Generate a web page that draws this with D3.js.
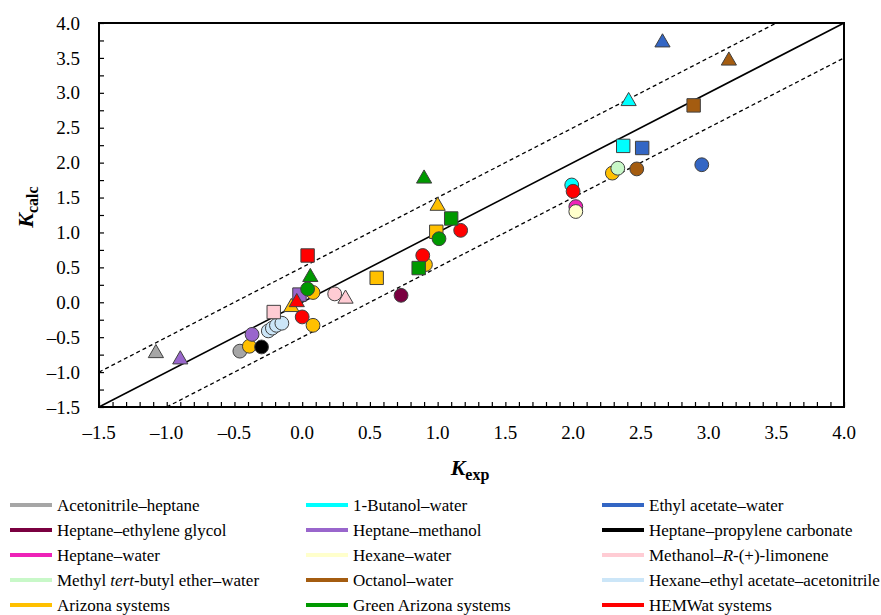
<!DOCTYPE html>
<html lang="en">
<head>
<meta charset="UTF-8">
<title>Kcalc vs Kexp</title>
<script src="https://d3js.org/d3.v7.min.js"></script>
<style>
  body { margin: 0; background: #fff; }
  svg text { font-family: "Liberation Serif", "Times New Roman", serif; fill: #000; }
</style>
</head>
<body>
<svg id="chart" width="881" height="615"></svg>
<script>
// solvent systems, in legend order
var systems = [
  "Acetonitrile–heptane", "1-Butanol–water", "Ethyl acetate–water",
  "Heptane–ethylene glycol", "Heptane–methanol", "Heptane–propylene carbonate",
  "Heptane–water", "Hexane–water", "Methanol–R-(+)-limonene",
  "Methyl tert-butyl ether–water", "Octanol–water", "Hexane–ethyl acetate–acetonitrile",
  "Arizona systems", "Green Arizona systems", "HEMWat systems"
];
var colors = [
  "#a6a6a6", "#00ffff", "#3366c4",
  "#7a0040", "#9966cc", "#000000",
  "#ee22b8", "#ffffcc", "#ffccd4",
  "#c8f8c8", "#a45c10", "#cce6f8",
  "#ffc000", "#009900", "#ff0000"
];

// measured points: [system index, shape, Kexp, Kcalc]  (drawn in this order)
var points = [
  [0, "triangle", -1.08, -0.73],
  [4, "triangle", -0.90, -0.82],
  [0, "circle", -0.46, -0.70],
  [12, "circle", -0.39, -0.63],
  [5, "circle", -0.30, -0.64],
  [4, "circle", -0.37, -0.46],
  [11, "circle", -0.25, -0.41],
  [11, "circle", -0.22, -0.37],
  [11, "circle", -0.19, -0.33],
  [11, "circle", -0.15, -0.30],
  [8, "square", -0.21, -0.14],
  [12, "circle", 0.08, -0.33],
  [14, "circle", 0.00, -0.21],
  [12, "triangle", -0.08, -0.07],
  [4, "square", -0.02, 0.11],
  [12, "circle", 0.08, 0.14],
  [13, "circle", 0.04, 0.19],
  [14, "triangle", -0.04, 0.00],
  [13, "triangle", 0.06, 0.36],
  [14, "square", 0.04, 0.67],
  [8, "circle", 0.24, 0.12],
  [8, "triangle", 0.32, 0.05],
  [3, "circle", 0.73, 0.10],
  [12, "square", 0.55, 0.35],
  [12, "circle", 0.91, 0.54],
  [14, "circle", 0.89, 0.67],
  [13, "square", 0.86, 0.49],
  [12, "square", 0.99, 1.01],
  [13, "circle", 1.01, 0.91],
  [14, "circle", 1.17, 1.03],
  [13, "square", 1.10, 1.20],
  [12, "triangle", 1.00, 1.38],
  [13, "triangle", 0.90, 1.77],
  [1, "circle", 1.99, 1.68],
  [14, "circle", 2.00, 1.59],
  [6, "circle", 2.02, 1.37],
  [7, "circle", 2.02, 1.30],
  [12, "circle", 2.29, 1.85],
  [9, "circle", 2.33, 1.92],
  [10, "circle", 2.47, 1.91],
  [2, "circle", 2.95, 1.97],
  [1, "square", 2.37, 2.24],
  [2, "square", 2.51, 2.21],
  [10, "square", 2.89, 2.82],
  [1, "triangle", 2.41, 2.88],
  [10, "triangle", 3.15, 3.46],
  [2, "triangle", 2.66, 3.72]
];

var xTicks = [-1.5, -1.0, -0.5, 0.0, 0.5, 1.0, 1.5, 2.0, 2.5, 3.0, 3.5, 4.0];
var yTicks = [-1.5, -1.0, -0.5, 0.0, 0.5, 1.0, 1.5, 2.0, 2.5, 3.0, 3.5, 4.0];

var svg = d3.select("#chart");
var plotLeft = 99, plotRight = 844, plotTop = 23, plotBottom = 407;

var x = d3.scaleLinear().domain([-1.5, 4.0]).range([plotLeft, plotRight]);
var y = d3.scaleLinear().domain([-1.5, 4.0]).range([plotBottom, plotTop]);

function fmt(v) {
  var s = d3.format(".1f")(Math.abs(v));
  return v < 0 ? "–" + s : s;
}

// parity line and ±0.5 band
var lines = [
  {from: [-1.5, -1.5], to: [4.0, 4.0], dash: null},
  {from: [-1.5, -1.0], to: [3.5, 4.0], dash: "4,3"},
  {from: [-1.0, -1.5], to: [4.0, 3.5], dash: "4,3"}
];
svg.selectAll(".ref").data(lines).enter().append("line")
  .attr("x1", function (d) { return x(d.from[0]); })
  .attr("y1", function (d) { return y(d.from[1]); })
  .attr("x2", function (d) { return x(d.to[0]); })
  .attr("y2", function (d) { return y(d.to[1]); })
  .attr("stroke", "#000")
  .attr("stroke-width", function (d) { return d.dash ? 1.3 : 1.6; })
  .attr("stroke-dasharray", function (d) { return d.dash; });

// axes, ticks point inward
var xAxis = d3.axisBottom(x).tickValues(d3.range(-15, 41).map(function (i) { return i / 10; }))
  .tickSize(-5).tickFormat("");
var yAxis = d3.axisLeft(y).tickValues(d3.range(-6, 17).map(function (i) { return i / 4; }))
  .tickSize(-5).tickFormat("");

svg.append("g").attr("transform", "translate(0," + plotBottom + ")").call(xAxis)
  .call(function (g) { g.select(".domain").remove(); })
  .selectAll("line").attr("stroke", "#000").attr("stroke-width", 1.2);
svg.append("g").attr("transform", "translate(" + plotLeft + ",0)").call(yAxis)
  .call(function (g) { g.select(".domain").remove(); })
  .selectAll("line").attr("stroke", "#000").attr("stroke-width", 1.2);

svg.append("rect")
  .attr("x", plotLeft).attr("y", plotTop)
  .attr("width", plotRight - plotLeft).attr("height", plotBottom - plotTop)
  .attr("fill", "none").attr("stroke", "#000").attr("stroke-width", 2);

svg.selectAll(".xlab").data(xTicks).enter().append("text")
  .attr("x", function (d) { return x(d); })
  .attr("y", 439)
  .attr("text-anchor", "middle")
  .style("font-size", "19px")
  .text(fmt);

svg.selectAll(".ylab").data(yTicks).enter().append("text")
  .attr("x", 80)
  .attr("y", function (d) { return y(d); })
  .attr("dy", "0.35em")
  .attr("text-anchor", "end")
  .style("font-size", "19px")
  .text(fmt);

// axis titles
var xt = svg.append("text").attr("x", 470).attr("y", 475).attr("text-anchor", "middle")
  .style("font-weight", "bold");
xt.append("tspan").style("font-style", "italic").style("font-size", "22px").text("K");
xt.append("tspan").attr("dy", 5).style("font-size", "16px").text("exp");

var yt = svg.append("text").attr("transform", "translate(33,207) rotate(-90)")
  .attr("text-anchor", "middle").style("font-weight", "bold");
yt.append("tspan").style("font-style", "italic").style("font-size", "22px").text("K");
yt.append("tspan").attr("dy", 5).style("font-size", "16px").text("calc");

// markers
var symbols = {
  circle: d3.symbol().type(d3.symbolCircle).size(150),
  square: d3.symbol().type(d3.symbolSquare).size(180),
  triangle: d3.symbol().type(d3.symbolTriangle).size(100)
};
svg.append("g").selectAll("path").data(points).enter().append("path")
  .attr("d", function (d) { return symbols[d[1]](); })
  .attr("transform", function (d) { return "translate(" + x(d[2]) + "," + y(d[3]) + ")"; })
  .attr("fill", function (d) { return colors[d[0]]; })
  .attr("stroke", "#404040")
  .attr("stroke-width", 1);

// legend, three columns
var colX = [10, 306, 602];
var rowY = [506, 531, 556, 581, 606];
var legend = svg.append("g").selectAll("g").data(systems).enter().append("g")
  .attr("transform", function (d, i) {
    return "translate(" + colX[i % 3] + "," + rowY[Math.floor(i / 3)] + ")";
  });
legend.append("line")
  .attr("x1", 0).attr("x2", 42).attr("y1", -1).attr("y2", -1)
  .attr("stroke", function (d, i) { return colors[i]; })
  .attr("stroke-width", 4);
legend.append("text")
  .attr("x", 47).attr("y", 5)
  .style("font-size", "17px")
  .each(function (d) {
    var t = d3.select(this);
    var m = d.match(/^(.*?)(tert|R)(-.*)$/);
    if (m) {
      t.append("tspan").text(m[1]);
      t.append("tspan").style("font-style", "italic").text(m[2]);
      t.append("tspan").text(m[3]);
    } else {
      t.text(d);
    }
  });
</script>
</body>
</html>
